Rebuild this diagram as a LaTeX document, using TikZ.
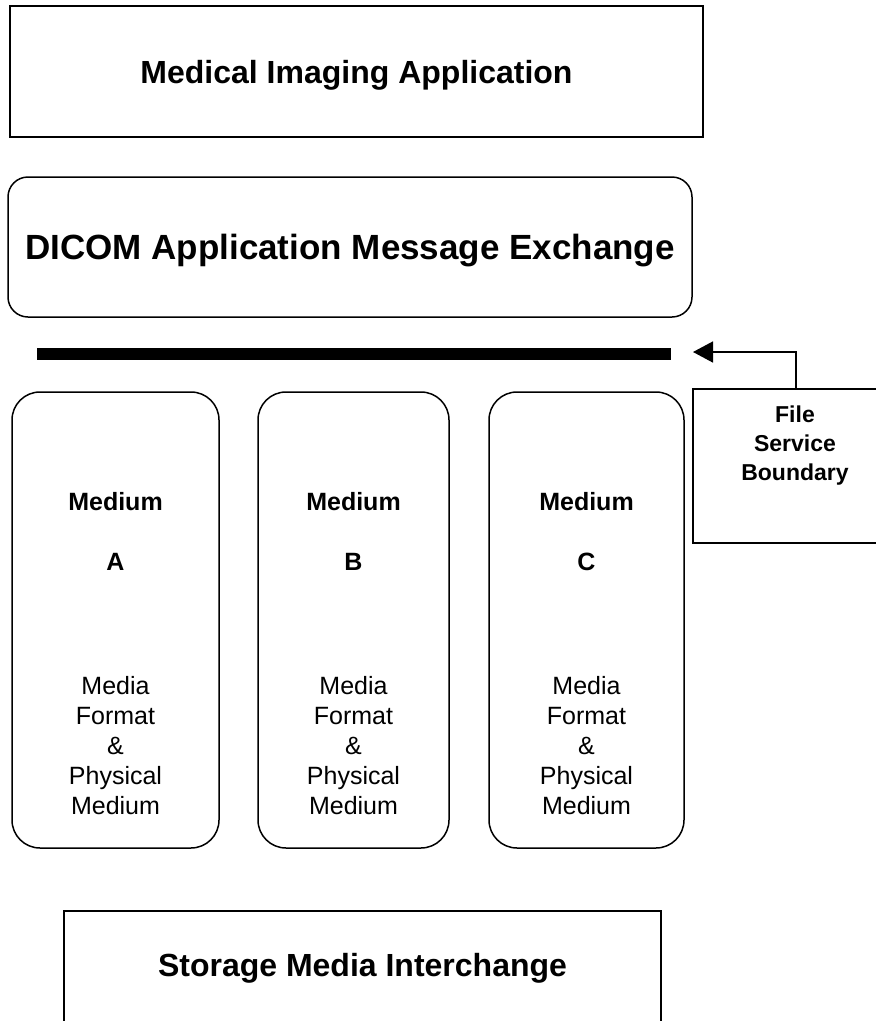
\documentclass[tikz,border=0pt]{standalone}
\usepackage{fontspec}
\setmainfont{Liberation Sans}
\usetikzlibrary{arrows.meta,positioning}
\tikzset{>/.tip={Triangle[length=20pt,width=21pt]}}
\tikzset{layer/.style={draw,line width=1.5pt,inner sep=0pt}}
\tikzset{medium/.style={layer,rounded corners=28pt,minimum height=456pt}}
\tikzset{title/.style={font=\fontsize{32}{38}\selectfont\bfseries}}
\tikzset{mlabel/.style={font=\fontsize{25}{30}\selectfont\bfseries}}
\tikzset{mdesc/.style={align=center,font=\fontsize{25}{30}\selectfont}}

\begin{document}
\begin{tikzpicture}[x=1pt,y=-1pt,node distance=60pt,on grid]
        \useasboundingbox (0,0) rectangle (876,1021);
        \node(app)[layer,minimum width=693pt,minimum height=131pt,title,text depth=0pt] at (356.5,71.5) {Medical Imaging Application};
        \node(dicom)[layer,rounded corners=20pt,minimum width=684pt,minimum height=140pt,title,text depth=0pt,font=\fontsize{35}{40}\selectfont\bfseries] at (350,247) {DICOM Application Message Exchange};
        % file service boundary
        \coordinate(barL) at (37,354);
        \coordinate(barR) at (671,354);
        \draw[line width=12pt] (barL) -- (barR);
        % media
        \node(boxA)[medium,minimum width=207pt] at (115.5,620) {};
        \node(boxB)[medium,minimum width=191pt] at (353.5,620) {};
        \node(boxC)[medium,minimum width=195pt] at (586.5,620) {};
        \node(mediumA)[mlabel,below=98pt of boxA.north]{Medium};
        \node(mediumB)[mlabel,below=98pt of boxB.north]{Medium};
        \node(mediumC)[mlabel,below=98pt of boxC.north]{Medium};
        \node(letterA)[mlabel,below=of mediumA]{A};
        \node(letterB)[mlabel,below=of mediumB]{B};
        \node(letterC)[mlabel,below=of mediumC]{C};
        \node(formatA)[mdesc,below=184pt of letterA]{Media\\Format\\\&\\Physical\\Medium};
        \node(formatB)[mdesc,below=184pt of letterB]{Media\\Format\\\&\\Physical\\Medium};
        \node(formatC)[mdesc,below=184pt of letterC]{Media\\Format\\\&\\Physical\\Medium};
        % boundary callout
        \node(fsb)[layer,minimum width=206pt,minimum height=154pt,anchor=north west] at (692,388) {};
        \node(fsbtext)[align=center,font=\fontsize{23}{29}\selectfont\bfseries] at (795,446) {File\\Service\\Boundary};
        \coordinate(fsbtip) at (693,352);
        \draw[->,line width=1.5pt] (fsb.north) |- (fsbtip);
        \node(storage)[layer,minimum width=597pt,minimum height=114pt,title] at (362.5,968) {Storage Media Interchange};
      \end{tikzpicture}
\end{document}
